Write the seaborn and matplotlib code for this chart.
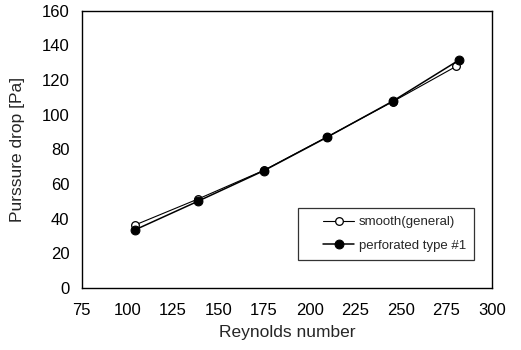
import matplotlib
matplotlib.use("Agg")
import matplotlib.pyplot as plt
from matplotlib.legend_handler import HandlerLine2D
import seaborn as sns
import pandas as pd

# Measured data
reynolds_smooth = [104, 139, 175, 209.5, 245.5, 280.5]
drop_smooth = [36.3, 51.5, 68.0, 87.2, 107.5, 128.0]
reynolds_perf = [104, 138.5, 175, 209.5, 245.5, 282]
drop_perf = [33.5, 50.0, 67.8, 87.0, 107.8, 131.6]
label_smooth = "smooth(general)"
label_perf = "perforated type #1"

x_ticks = [75, 100, 125, 150, 175, 200, 225, 250, 275, 300]
y_ticks = [0, 20, 40, 60, 80, 100, 120, 140, 160]

sns.set_theme(style="white")
plt.rcParams["font.family"] = ["Liberation Sans", "DejaVu Sans"]

df_s = pd.DataFrame({"Re": reynolds_smooth, "dp": drop_smooth})
df_p = pd.DataFrame({"Re": reynolds_perf, "dp": drop_perf})

fig = plt.figure(figsize=(5.21, 3.5), dpi=100)
ax = fig.add_axes([0.157, 0.177, 0.787, 0.792])

sns.lineplot(data=df_s, x="Re", y="dp", ax=ax, color="black", lw=0.8,
             marker="o", markersize=6.5, markerfacecolor="white",
             markeredgecolor="black", markeredgewidth=0.9,
             label=label_smooth, sort=False)
sns.lineplot(data=df_p, x="Re", y="dp", ax=ax, color="black", lw=1.1,
             marker="o", markersize=7.5, markerfacecolor="black",
             markeredgecolor="black", label=label_perf, sort=False)

ax.set_xlim(75, 300)
ax.set_ylim(0, 160)
ax.set_xticks(x_ticks)
ax.set_yticks(y_ticks)
ax.tick_params(axis="both", direction="in", length=3, width=0.8,
               labelsize=12, colors="black")
ax.tick_params(axis="x", pad=11)
ax.tick_params(axis="y", pad=9)
for s in ax.spines.values():
    s.set_color("black")
    s.set_linewidth(1.0)

ax.set_xlabel("Reynolds number", fontsize=12.5, labelpad=5)
ax.set_ylabel("Purssure drop [Pa]", fontsize=12.5, labelpad=12)

# legend handles drawn in the right part of the handle box
pad = HandlerLine2D(xpad=1.3, marker_pad=0.3)
handles, labels = ax.get_legend_handles_labels()
for h in handles:
    h.set_markersize(h.get_markersize() * 0.85)
leg = ax.legend(handles, labels, loc="lower right",
                bbox_to_anchor=(0.973, 0.079),
                fontsize=9.5, frameon=True, fancybox=False,
                handlelength=3.6, handletextpad=0.4,
                borderpad=0.6, labelspacing=0.85,
                handler_map={h: pad for h in handles})
leg.get_frame().set_edgecolor("black")
leg.get_frame().set_linewidth(0.9)

fig.savefig("out.png", dpi=100)
